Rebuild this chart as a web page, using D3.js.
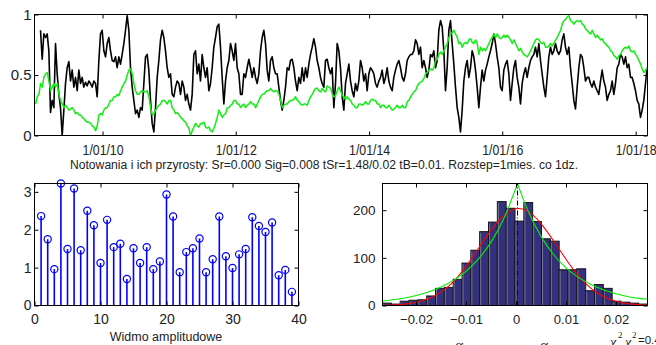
<!DOCTYPE html>
<html><head><meta charset="utf-8">
<script src="https://cdn.jsdelivr.net/npm/d3@7"></script>
<style>
body{margin:0;background:#fff;overflow:hidden}
svg{display:block}
</style>
</head><body><svg id="c" width="656" height="345"></svg>
<script>
// ---------------- DATA ----------------
// top panel: two normalised series sampled every ~9.1 days
const blackVals = [
.87,.63,.84,.81,.84,.70,.19,.29,.23,.76,
.51,.34,.23,.00,.21,.43,.56,.61,.45,.54,
.40,.48,.37,.54,.43,.48,.40,.44,.41,.45,
.43,.40,.45,.43,.32,.62,.84,.87,.70,.65,
.76,.81,.70,.62,.61,.65,.56,.65,.59,.67,
.76,.87,.99,.87,.56,.40,.29,.18,.21,.15,
.23,.21,.43,.65,.67,.54,.29,.10,.03,.23,
.48,.62,.79,.87,.81,.70,.56,.48,.51,.34,
.32,.40,.45,.43,.34,.45,.40,.29,.34,.26,
.21,.34,.67,.70,.51,.59,.45,.67,.56,.48,
.56,.37,.43,.56,.73,.81,.90,.92,.73,.48,
.26,.45,.56,.62,.76,.70,.62,.76,.56,.51,
.34,.34,.51,.48,.56,.63,.56,.48,.56,.48,
.43,.51,.70,.81,.87,.76,.54,.45,.62,.65,
.56,.51,.51,.40,.29,.21,.29,.40,.56,.54,
.62,.63,.56,.45,.37,.48,.43,.56,.45,.56,
.48,.59,.67,.73,.80,.73,.62,.56,.48,.43,
.40,.62,
.63,.56,.51,.56,.23,.43,.76,.70,.56,.32,
.21,.43,.51,.59,.45,.37,.32,.43,.37,.45,
.62,.56,.45,.51,.37,.51,.56,.54,.51,.43,
.40,.45,.48,.54,.43,.48,.56,.45,.40,.37,
.48,.54,.59,.62,.56,.48,.45,.51,.62,.65,
.67,.67,.70,.79,.76,.67,.73,.56,.62,.56,
.48,.54,.67,.65,.70,.56,.62,.87,.95,.90,
.70,.37,.56,.87,.95,.76,.59,.40,.23,.15,
.03,.21,.45,.56,.62,.48,.56,.70,.65,.54,
.40,.23,.40,.54,.45,.54,.59,.65,.70,.76,
.84,.76,.65,.56,.40,.37,.54,.59,.62,.51,
.29,.43,.56,.62,.48,.40,.26,.43,.51,.56,
.48,.56,.62,.65,.67,.73,.65,.76,.62,.51,
.40,.32,.48,.65,.73,.67,.70,.76,.70,.67,
.70,.79,.84,.73,.67,.73,.56,.43,.29,.22,
.40,.56,.67,.65,.56,.45,.48,.48,.43,.40,
.45,.40,.37,.34,.45,.54,.45,.40,.29,.34,
.37,.45,.34,.43,.56,.59,.67,.65,.59,.65,
.56,.59,.48,.48,.43,.37,.29,.26,.15,.21,
.29,.43,.56
];
const greenVals = [
.26,.32,.34,.43,.40,.48,.51,.52,.45,.37,
.40,.43,.40,.43,.34,.29,.26,.23,.25,.23,
.21,.22,.23,.21,.18,.19,.17,.17,.15,.14,
.12,.11,.11,.10,.08,.07,.04,.08,.17,.18,
.17,.21,.23,.23,.26,.29,.29,.32,.32,.34,
.33,.37,.40,.43,.45,.50,.54,.55,.51,.43,
.37,.34,.34,.36,.37,.36,.36,.37,.32,.23,
.17,.18,.21,.23,.25,.26,.29,.29,.28,.26,
.29,.29,.23,.21,.18,.19,.17,.15,.14,.12,
.11,.08,.06,.00,.04,.07,.10,.08,.07,.10,
.10,.11,.07,.06,.07,.04,.03,.06,.10,.15,
.21,.18,.15,.17,.18,.23,.23,.25,.26,.29,
.29,.26,.26,.23,.25,.26,.23,.25,.26,.28,
.26,.26,.23,.26,.29,.32,.34,.34,.36,.37,
.37,.39,.37,.36,.37,.37,.34,.29,.23,.25,
.26,.26,.28,.29,.29,.30,.32,.29,.28,.26,
.25,.26,.26,.25,.29,.32,.34,.37,.39,.39,
.37,.36,.39,.37,.36,
.41,.40,.39,.34,.32,.33,.37,.40,.37,.33,
.32,.30,.32,.30,.29,.26,.25,.23,.23,.26,
.26,.25,.26,.28,.26,.26,.29,.30,.29,.29,
.26,.26,.23,.25,.25,.23,.23,.25,.23,.21,
.22,.23,.25,.23,.23,.25,.23,.23,.28,.29,
.32,.34,.36,.37,.41,.43,.44,.45,.47,.51,
.52,.54,.55,.54,.56,.62,.63,.67,.69,.67,
.70,.73,.76,.81,.84,.85,.87,.84,.81,.76,
.77,.73,.76,.77,.76,.79,.80,.77,.76,.79,
.76,.67,.73,.70,.72,.70,.73,.76,.79,.81,
.84,.81,.84,.81,.80,.81,.83,.81,.83,.81,
.79,.76,.79,.76,.73,.70,.72,.69,.67,.66,
.65,.67,.70,.73,.76,.79,.80,.79,.77,.76,
.77,.73,.73,.74,.76,.74,.76,.79,.81,.84,
.87,.92,.95,.96,.98,.99,.95,.94,.92,.94,
.95,.94,.95,.92,.91,.88,.87,.85,.84,.87,
.84,.81,.83,.81,.79,.80,.77,.76,.74,.73,
.70,.69,.66,.65,.63,.66,.67,.70,.72,.73,
.72,.74,.70,.69,.70,.67,.65,.62,.59,.55,
.52,.54,.56
];
const blackStart = new Date(2009, 0, 26);
const greenStart = new Date(2008, 11, 30);
const sampleStepDays = 9.135;
const timeDomain = [new Date(2008, 11, 24), new Date(2018, 2, 7)];
const timeTicks = [new Date(2010,0,1), new Date(2012,0,1), new Date(2014,0,1), new Date(2016,0,1), new Date(2018,0,1)];
const topYTicks = [0, 0.5, 1];
const caption = "Notowania i ich przyrosty: Sr=0.000 Sig=0.008 tSr=1.48/0.02 tB=0.01. Rozstep=1mies. co 1dz.";

// bottom-left: amplitude spectrum
const amplitudes = [2.36,1.75,0.96,3.22,1.49,3.09,1.46,2.50,2.12,1.12,
  2.26,1.54,1.63,0.70,1.51,1.12,1.54,0.96,1.16,2.93,
  2.35,0.88,1.41,1.51,1.77,0.88,1.22,2.35,1.30,0.99,
  1.35,1.49,2.33,2.10,1.94,2.19,0.80,0.94,0.36];
const stemXTicks = [0, 10, 20, 30, 40];
const stemYTicks = [0, 1, 2, 3];
const stemXLabel = "Widmo amplitudowe";

// bottom-right: histogram of increments with fitted densities
const histRange = [-0.0267, 0.0263];
const histCounts = [5,3,9,11,12,20,36,38,55,89,116,155,175,218,204,177,216,176,140,135,75,75,77,31,44,36,9,7,5,3];
const histXTicks = [-0.02, -0.01, 0, 0.01, 0.02];
const histYTicks = [0, 100, 200];
const histYMax = 256;
const normalFitX = [-0.0267,-0.025,-0.0225,-0.02,-0.0175,-0.015,-0.0125,-0.01,-0.0075,-0.005,-0.0025,0,0.0025,0.005,0.0075,0.01,0.0125,0.015,0.0175,0.02,0.0225,0.025,0.0263];
const normalFitY = [0.5,1,2.6,6.4,14,28,50,82,120,158,188,203,197,172,136,97,62,36,19,9,3.8,1.5,0.9];
const laplaceFitX = [-0.0267,-0.025,-0.0225,-0.02,-0.0175,-0.015,-0.0125,-0.01,-0.0075,-0.005,-0.0025,0.0003,0.0025,0.005,0.0075,0.01,0.0125,0.015,0.0175,0.02,0.0225,0.025,0.0263];
const laplaceFitY = [9.5,11.5,15.3,20.9,28.4,38.7,52.7,71.8,97.7,133,181,256,196,145,107,79,59,44,33,24.5,18.5,14.5,13];
const modeX = 0.0003;

// ---------------- DRAWING ----------------
const FONT = '"Liberation Sans", Arial, Helvetica, sans-serif';
const svg = d3.select("#c");
const MS = 86400000;

function axes(x, y, o) {
  const [x0, x1] = x.range(), [yb, yt] = y.range();
  const g = svg.append("g");
  const gb = g.append("g").attr("transform", `translate(0,${yb})`)
    .call(d3.axisBottom(x).tickValues(o.xTicks).tickFormat(o.xFmt).tickSizeInner(-o.tick).tickSizeOuter(0).tickPadding(o.xPad));
  g.append("g").attr("transform", `translate(0,${yt})`)
    .call(d3.axisTop(x).tickValues(o.xTicks).tickFormat("").tickSizeInner(-o.tick).tickSizeOuter(0));
  const gl = g.append("g").attr("transform", `translate(${x0},0)`)
    .call(d3.axisLeft(y).tickValues(o.yTicks).tickFormat(o.yFmt).tickSizeInner(-o.tick).tickSizeOuter(0).tickPadding(o.yPad));
  g.append("g").attr("transform", `translate(${x1},0)`)
    .call(d3.axisRight(y).tickValues(o.yTicks).tickFormat("").tickSizeInner(-o.tick).tickSizeOuter(0));
  g.selectAll(".domain").remove();
  g.selectAll(".tick line").attr("stroke", "#000");
  gb.selectAll("text").attr("font-family", FONT).attr("font-size", o.xFs).attr("fill", "#222");
  gl.selectAll("text").attr("font-family", FONT).attr("font-size", o.yFs).attr("fill", "#222");
  if (o.xLen) gb.selectAll("text").attr("textLength", o.xLen).attr("lengthAdjust", "spacingAndGlyphs");
  g.append("rect").attr("x", x0).attr("y", yt).attr("width", x1 - x0).attr("height", yb - yt)
    .attr("fill", "none").attr("stroke", "#000").attr("stroke-width", 1);
  return g;
}

// ---- top panel ----
const xT = d3.scaleTime().domain(timeDomain).range([34.5, 647.5]);
const yT = d3.scaleLinear().domain([0, 1]).range([135.5, 14.5]);
svg.append("clipPath").attr("id", "clipTop").append("rect")
  .attr("x", 34.5).attr("y", 14).attr("width", 613).attr("height", 122);
const blackData = blackVals.map((v, i) => ({t: new Date(+blackStart + i * sampleStepDays * MS), v}));
const greenData = greenVals.map((v, i) => ({t: new Date(+greenStart + i * sampleStepDays * MS), v}));
const lineT = d3.line().x(d => xT(d.t)).y(d => yT(d.v));
const gTop = svg.append("g").attr("clip-path", "url(#clipTop)");
gTop.append("path").datum(blackData).attr("d", lineT).attr("fill", "none")
  .attr("stroke", "#000").attr("stroke-width", 1.6).attr("stroke-linejoin", "round");
gTop.append("path").datum(greenData).attr("d", lineT).attr("fill", "none")
  .attr("stroke", "#11ee11").attr("stroke-width", 1.5).attr("stroke-linejoin", "round");
axes(xT, yT, {xTicks: timeTicks, xFmt: d3.timeFormat("%-d/%m/%y"), yTicks: topYTicks,
  yFmt: d => d === 0.5 ? "0.5" : String(d), tick: 4, xPad: 9, yPad: 3, xFs: 14.5, yFs: 15, xLen: 41});

svg.append("text").attr("x", 324).attr("y", 168.5).attr("text-anchor", "middle")
  .attr("font-family", FONT).attr("font-size", 12).attr("fill", "#222")
  .attr("textLength", 508).attr("lengthAdjust", "spacingAndGlyphs").text(caption);

// ---- bottom-left: stems ----
const xS = d3.scaleLinear().domain([0, 40]).range([34.5, 298.5]);
const yS = d3.scaleLinear().domain([0, d3.max(amplitudes)]).range([305.5, 183.5]);
const gS = svg.append("g");
amplitudes.forEach((a, i) => {
  const k = i + 1;
  gS.append("line").attr("x1", xS(k)).attr("x2", xS(k)).attr("y1", yS(0)).attr("y2", yS(a))
    .attr("stroke", "#0000ff").attr("stroke-width", 1.6);
  gS.append("circle").attr("cx", xS(k)).attr("cy", yS(a)).attr("r", 3.6)
    .attr("fill", "none").attr("stroke", "#0000ff").attr("stroke-width", 1.2);
});
axes(xS, yS, {xTicks: stemXTicks, xFmt: d3.format("d"), yTicks: stemYTicks, yFmt: d3.format("d"),
  tick: 4, xPad: 8.5, yPad: 3, xFs: 14, yFs: 14});
svg.append("text").attr("x", 166).attr("y", 341).attr("text-anchor", "middle")
  .attr("font-family", FONT).attr("font-size", 12.5).attr("fill", "#222").text(stemXLabel);

// ---- bottom-right: histogram ----
const xH = d3.scaleLinear().domain(histRange).range([382.5, 647.5]);
const yH = d3.scaleLinear().domain([0, histYMax]).range([305.5, 183.5]);
const binW = (histRange[1] - histRange[0]) / histCounts.length;
const gH = svg.append("g");
histCounts.forEach((c, i) => {
  const a = histRange[0] + i * binW, b = a + binW;
  gH.append("rect").attr("x", xH(a)).attr("y", yH(c)).attr("width", xH(b) - xH(a)).attr("height", yH(0) - yH(c))
    .attr("fill", "#33307e").attr("stroke", "#151515").attr("stroke-width", 1);
  gH.append("line").attr("x1", xH(a) + 1).attr("x2", xH(a) + 1).attr("y1", yH(c) + 1).attr("y2", yH(0))
    .attr("stroke", "#8a8a8a").attr("stroke-width", 0.8);
});
const lineH = d3.line().x(d => xH(d[0])).y(d => yH(d[1]));
gH.append("path").datum(d3.zip(normalFitX, normalFitY)).attr("d", lineH.curve(d3.curveNatural))
  .attr("fill", "none").attr("stroke", "#ff0000").attr("stroke-width", 1.1);
const lap = d3.zip(laplaceFitX, laplaceFitY);
const pk = d3.maxIndex(laplaceFitY);
const lineL = d3.line().x(d => xH(d[0])).y(d => yH(d[1])).curve(d3.curveMonotoneX);
gH.append("path").datum(lap.slice(0, pk + 1)).attr("d", lineL).attr("fill", "none").attr("stroke", "#00ee00").attr("stroke-width", 1.1);
gH.append("path").datum(lap.slice(pk)).attr("d", lineL).attr("fill", "none").attr("stroke", "#00ee00").attr("stroke-width", 1.1);
gH.append("line").attr("x1", xH(modeX)).attr("x2", xH(modeX)).attr("y1", yH(0)).attr("y2", yH(histYMax))
  .attr("stroke", "#000").attr("stroke-width", 1).attr("stroke-dasharray", "5,2,1,2");
axes(xH, yH, {xTicks: histXTicks, xFmt: d => d === 0 ? "0" : d3.format(".2f")(d), yTicks: histYTicks, yFmt: d3.format("d"),
  tick: 4, xPad: 9, yPad: 7, xFs: 13, yFs: 13.5});

// partially visible formula line under the histogram
const SERIF = '"Liberation Serif", "Times New Roman", serif';
const mathParts = [
  {t: "α", x: 455, y: 350, fs: 15, it: true},
  {t: "α", x: 540, y: 350, fs: 15, it: true},
  {t: "χ", x: 610, y: 347, fs: 14, it: true},
  {t: "2", x: 618, y: 338, fs: 9, it: false},
  {t: "χ", x: 625, y: 347, fs: 14, it: true},
  {t: "2", x: 632, y: 338, fs: 9, it: false},
  {t: "=0.4", x: 638, y: 343.5, fs: 11.5, it: false, sans: true}
];
mathParts.forEach(p => svg.append("text").attr("x", p.x).attr("y", p.y)
  .attr("font-family", p.sans ? FONT : SERIF).attr("font-style", p.it ? "italic" : "normal")
  .attr("font-size", p.fs).attr("fill", "#222").text(p.t));
</script>
</body></html>
